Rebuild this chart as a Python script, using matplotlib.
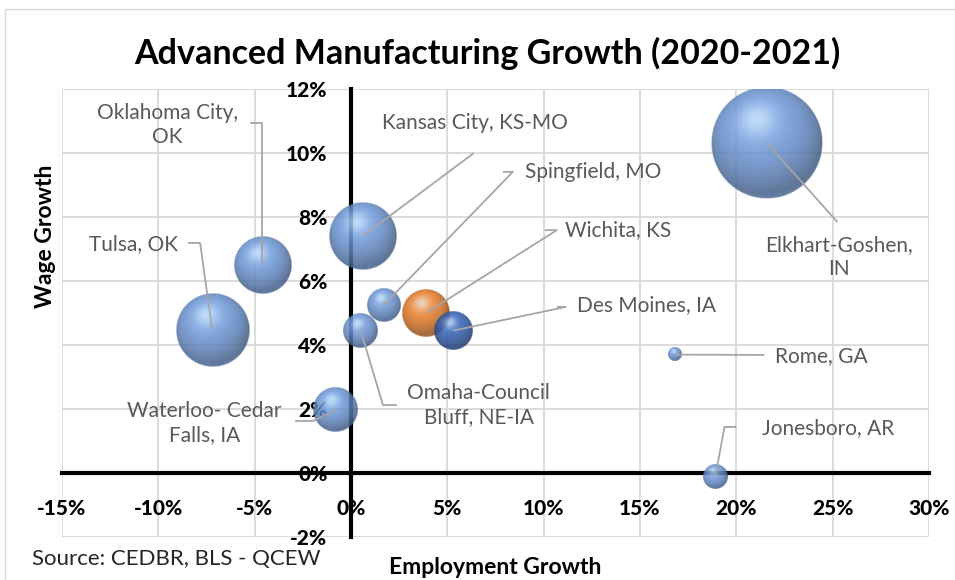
import numpy as np
import matplotlib.pyplot as plt
from matplotlib.colors import to_rgb
from matplotlib.patches import Rectangle

# Advanced manufacturing: employment growth vs wage growth, bubble = size of industry
plt.rcParams['font.family'] = ['Lato', 'DejaVu Sans']

metros = ["Elkhart-Goshen,\nIN", "Kansas City, KS-MO", "Tulsa, OK", "Oklahoma City,\nOK",
          "Spingfield, MO", "Wichita, KS", "Des Moines, IA", "Omaha-Council\nBluff, NE-IA",
          "Waterloo- Cedar\nFalls, IA", "Rome, GA", "Jonesboro, AR"]
emp_growth = [21.6, 0.6, -7.2, -4.6, 1.7, 3.9, 5.3, 0.5, -0.8, 16.8, 18.9]
wage_growth = [10.3, 7.4, 4.45, 6.5, 5.25, 5.0, 4.45, 4.45, 1.97, 3.7, -0.12]
bubble_size = [3025, 1089, 1296, 784, 272, 552, 361, 289, 484, 42, 144]
bubble_color = ["#6A94D4"] * 11
bubble_color[5] = "#E57A26"   # Wichita highlighted
bubble_color[6] = "#2F5DB0"   # Des Moines

x_ticks = [-15, -10, -5, 0, 5, 10, 15, 20, 25, 30]
y_ticks = [-2, 0, 2, 4, 6, 8, 10, 12]

# label placement (data units): text centre, leader start, leader knee
label_pos = [(25.35, 6.75), (6.43, 10.94), (-11.3, 7.16), (-9.54, 10.86), (12.55, 9.41),
             (13.84, 7.59), (15.34, 5.25), (6.64, 2.11), (-7.62, 1.56), (24.42, 3.66),
             (24.78, 1.41)]
leader_start = [(25.25, 7.84), (6.38, 10.0), (-8.45, 7.19), (-5.24, 10.94), (7.88, 9.41),
                (10.06, 7.59), (10.68, 5.19), (2.38, 2.125), (-2.9, 1.625), (21.46, 3.69),
                (20.01, 1.44)]
leader_knee = [(25.25, 7.84), (6.38, 10.0), (-7.83, 7.19), (-4.6, 10.94), (8.4, 9.41),
               (10.68, 7.59), (11.15, 5.19), (1.66, 2.125), (-1.97, 1.625), (21.46, 3.69),
               (19.39, 1.44)]


def sphere(color, n=200, alpha=0.85):
    u = np.linspace(-1, 1, n)
    X, Y = np.meshgrid(u, u)
    R = np.sqrt(X**2 + Y**2)
    Z = np.sqrt(np.clip(1 - R**2, 0, 1))
    L = np.array([-0.18, 0.42, 0.89])
    L = L / np.linalg.norm(L)
    d = np.clip(X * L[0] + Y * L[1] + Z * L[2], 0, 1)
    base = np.array(to_rgb(color))
    col = base * (0.58 + 0.5 * d[..., None])
    spec = (d ** 18)[..., None]
    col = col * (1 - 0.65 * spec) + np.array([0.85, 0.95, 1.0]) * 0.65 * spec
    rim = (np.clip(-Y, 0, 1) * (1 - Z) ** 2)[..., None] * 0.35
    col = col * (1 - rim) + base * 1.15 * rim
    a = alpha * np.clip((1 - R) * n / 2.5, 0, 1)
    return np.dstack([np.clip(col, 0, 1), a])


fig = plt.figure(figsize=(9.55, 5.8), dpi=100)
ax = fig.add_axes([62 / 955, 43 / 580, 867 / 955, 448 / 580])
ax.set_xlim(-15, 30)
ax.set_ylim(-2, 12)

ax.grid(color="#D9D9D9", lw=1.3)
ax.set_axisbelow(True)
for gl in ax.get_xgridlines() + ax.get_ygridlines():
    gl.set_clip_on(False)
for s in ["top", "right"]:
    ax.spines[s].set_visible(False)
for s in ["left", "bottom"]:
    ax.spines[s].set_position(("data", 0))
    ax.spines[s].set_linewidth(3)

ax.set_xticks(x_ticks, labels=[f"{v}%" for v in x_ticks], fontweight="black", fontsize=15)
ax.set_yticks(y_ticks, labels=[f"{v}%" for v in y_ticks], fontweight="black", fontsize=15)
ax.tick_params(axis="x", length=0, pad=19)
ax.tick_params(axis="y", length=0, pad=17)

# bubble radius: largest bubble = 25% of plot height (Excel default)
h_px = ax.get_window_extent().height
r_max = 0.25 * h_px / 2
inv = ax.transData.inverted()
for x, y, s, c in zip(emp_growth, wage_growth, bubble_size, bubble_color):
    r = r_max * np.sqrt(s / max(bubble_size))
    cx, cy = ax.transData.transform((x, y))
    x0, y0 = inv.transform((cx - r, cy - r))
    x1, y1 = inv.transform((cx + r, cy + r))
    ax.imshow(sphere(c), extent=(x0, x1, y0, y1), origin="lower", aspect="auto",
              interpolation="bilinear", zorder=4)

for i, name in enumerate(metros):
    xs = [leader_start[i][0], leader_knee[i][0], emp_growth[i]]
    ys = [leader_start[i][1], leader_knee[i][1], wage_growth[i]]
    ax.plot(xs, ys, color="#A6A6A6", lw=1.3, zorder=6, solid_capstyle="butt")
    ax.text(label_pos[i][0], label_pos[i][1], name, ha="center", va="center",
            color="#595959", fontsize=15, linespacing=1.25, zorder=7)

ax.set_xlim(-15, 30)
ax.set_ylim(-2, 12)

fig.text(487 / 955, 1 - 53 / 580, "Advanced Manufacturing Growth (2020-2021)",
         ha="center", va="center", fontsize=24.5, fontweight="bold")
fig.text(46 / 955, 1 - 236 / 580, "Wage Growth", rotation=90, ha="center", va="center",
         fontsize=16.5, fontweight="bold")
fig.text(495 / 955, 1 - 567 / 580, "Employment Growth", ha="center", va="center",
         fontsize=16.5, fontweight="bold")
fig.text(32 / 955, 1 - 559 / 580, "Source: CEDBR, BLS - QCEW", ha="left", va="center",
         fontsize=16, color="#262626")

fig.add_artist(Rectangle((5 / 955, -0.1), 1.0, 1.1 - 9 / 580, transform=fig.transFigure,
                         fill=False, ec="#D9D9D9", lw=1))

fig.savefig("out.png", dpi=100)
